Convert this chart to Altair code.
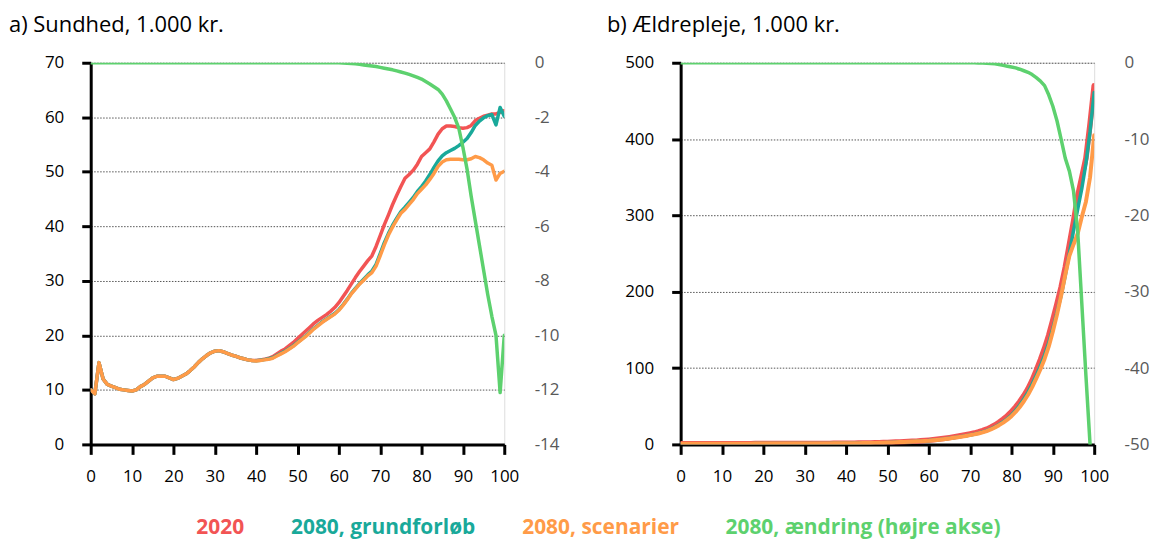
import altair as alt
import pandas as pd

FONT = "Open Sans"

series_names = ["2020", "2080, grundforløb", "2080, scenarier", "2080, ændring (højre akse)"]
series_colors = ["#F25454", "#19A99A", "#FF9B48", "#5DD16E"]

ages = list(range(101))

# a) Sundhed, 1.000 kr.
sund_2020 = [10.0, 9.3, 15.0, 12.0, 11.0, 10.7, 10.4, 10.1, 10.0, 9.9,
             9.8, 10.0, 10.6, 11.0, 11.6, 12.2, 12.5, 12.5, 12.5, 12.2,
             11.9, 12.1, 12.5, 12.9, 13.5, 14.2, 15.0, 15.7, 16.3, 16.8,
             17.1, 17.2, 17.0, 16.7, 16.4, 16.2, 15.9, 15.7, 15.5, 15.4,
             15.4, 15.5, 15.6, 15.8, 16.1, 16.6, 17.1, 17.5, 18.1, 18.7,
             19.4, 20.1, 20.8, 21.5, 22.2, 22.8, 23.3, 23.8, 24.4, 25.1,
             26.0, 27.1, 28.2, 29.4, 30.6, 31.7, 32.7, 33.7, 34.6, 36.3,
             38.3, 40.3, 42.1, 44.0, 45.7, 47.3, 48.8, 49.5, 50.3, 51.4,
             52.8, 53.5, 54.2, 55.5, 56.9, 57.9, 58.4, 58.4, 58.3, 58.1,
             58.0, 58.1, 58.5, 59.4, 59.8, 60.2, 60.4, 60.6, 60.6, 60.9, 61.2]
sund_grund = [10.0, 9.3, 15.0, 12.0, 11.0, 10.7, 10.4, 10.1, 10.0, 9.9,
              9.8, 10.0, 10.6, 11.0, 11.6, 12.2, 12.5, 12.5, 12.5, 12.2,
              11.9, 12.1, 12.5, 12.9, 13.5, 14.2, 15.0, 15.7, 16.3, 16.8,
              17.1, 17.2, 17.0, 16.7, 16.4, 16.2, 15.9, 15.7, 15.5, 15.4,
              15.35, 15.45, 15.55, 15.7, 15.9, 16.3, 16.7, 17.1, 17.6, 18.1,
              18.7, 19.3, 19.9, 20.6, 21.3, 21.9, 22.5, 23.0, 23.5, 24.0,
              24.7, 25.6, 26.6, 27.7, 28.6, 29.5, 30.3, 31.1, 31.8, 33.0,
              35.0, 37.0, 38.7, 40.2, 41.5, 42.7, 43.5, 44.4, 45.3, 46.4,
              47.3, 48.3, 49.5, 50.8, 52.0, 52.9, 53.5, 53.9, 54.3, 54.8,
              55.4, 56.1, 57.2, 58.5, 59.3, 59.9, 60.3, 60.5, 58.6, 61.8, 60.2]
sund_scen = [10.0, 9.3, 15.0, 12.0, 11.0, 10.7, 10.4, 10.1, 10.0, 9.9,
             9.8, 10.0, 10.6, 11.0, 11.6, 12.2, 12.5, 12.5, 12.5, 12.2,
             11.9, 12.1, 12.5, 12.9, 13.5, 14.2, 15.0, 15.7, 16.3, 16.8,
             17.1, 17.2, 17.0, 16.7, 16.4, 16.2, 15.9, 15.7, 15.5, 15.4,
             15.3, 15.4, 15.5, 15.6, 15.8, 16.2, 16.6, 17.0, 17.5, 18.0,
             18.6, 19.2, 19.8, 20.5, 21.2, 21.8, 22.4, 22.9, 23.4, 23.9,
             24.6, 25.5, 26.5, 27.6, 28.5, 29.4, 30.1, 30.9, 31.5, 32.7,
             34.6, 36.6, 38.4, 39.9, 41.2, 42.4, 43.1, 44.0, 44.9, 46.0,
             46.8, 47.6, 48.6, 49.7, 51.0, 51.8, 52.2, 52.3, 52.3, 52.3,
             52.2, 52.2, 52.4, 52.8, 52.6, 52.2, 51.6, 51.2, 48.5, 49.7, 50.1]
sund_aendr = [0.0, 0.0, 0.0, 0.0, 0.0, 0.0, 0.0, 0.0, 0.0, 0.0,
              0.0, 0.0, 0.0, 0.0, 0.0, 0.0, 0.0, 0.0, 0.0, 0.0,
              0.0, 0.0, 0.0, 0.0, 0.0, 0.0, 0.0, 0.0, 0.0, 0.0,
              0.0, 0.0, 0.0, 0.0, 0.0, 0.0, 0.0, 0.0, 0.0, 0.0,
              0.0, 0.0, 0.0, 0.0, 0.0, 0.0, 0.0, 0.0, 0.0, 0.0,
              0.0, 0.0, 0.0, 0.0, 0.0, 0.0, 0.0, 0.0, 0.0, 0.0,
              0.0, -0.01, -0.02, -0.03, -0.04, -0.06, -0.08, -0.10, -0.12, -0.14,
              -0.17, -0.20, -0.23, -0.26, -0.30, -0.34, -0.38, -0.43, -0.48, -0.54,
              -0.60, -0.69, -0.78, -0.88, -0.98, -1.15, -1.40, -1.70, -2.00, -2.40,
              -3.10, -3.90, -4.90, -5.80, -6.70, -7.60, -8.50, -9.30, -10.00, -12.10, -10.00]

# b) Ældrepleje, 1.000 kr.
aeld_2020 = [0.9, 0.8, 0.8, 0.8, 0.8, 0.8, 0.8, 0.9, 0.9, 0.9,
             0.9, 0.9, 0.9, 1.0, 1.0, 1.0, 1.0, 1.0, 1.1, 1.1,
             1.1, 1.1, 1.1, 1.1, 1.1, 1.1, 1.1, 1.2, 1.2, 1.2,
             1.2, 1.2, 1.2, 1.3, 1.3, 1.3, 1.3, 1.4, 1.4, 1.5,
             1.5, 1.6, 1.6, 1.7, 1.8, 1.9, 2.0, 2.1, 2.3, 2.4,
             2.6, 2.8, 3.0, 3.2, 3.4, 3.7, 4.0, 4.3, 4.7, 5.1,
             5.6, 6.1, 6.7, 7.4, 8.1, 8.9, 9.8, 10.7, 11.7, 12.7,
             13.8, 14.9, 16.3, 18.0, 20.0, 22.5, 25.5, 29.0, 33.0, 37.5,
             43.0, 49.0, 56.0, 64.0, 73.0, 84.0, 97.0, 111.0, 126.0, 143.0,
             163.0, 184.0, 206.0, 232.0, 262.0, 292.0, 325.0, 350.0, 375.0, 420.0, 470.0]
aeld_grund = [0.9, 0.8, 0.8, 0.8, 0.8, 0.8, 0.8, 0.9, 0.9, 0.9,
              0.9, 0.9, 0.9, 1.0, 1.0, 1.0, 1.0, 1.0, 1.1, 1.1,
              1.1, 1.1, 1.1, 1.1, 1.1, 1.1, 1.1, 1.2, 1.2, 1.2,
              1.2, 1.2, 1.2, 1.3, 1.3, 1.3, 1.3, 1.4, 1.4, 1.4,
              1.4, 1.5, 1.5, 1.6, 1.7, 1.8, 1.9, 2.0, 2.1, 2.2,
              2.4, 2.6, 2.8, 3.0, 3.2, 3.4, 3.7, 4.0, 4.3, 4.6,
              5.0, 5.5, 6.0, 6.6, 7.3, 8.0, 8.8, 9.6, 10.5, 11.4,
              12.4, 13.4, 14.7, 16.2, 18.0, 20.2, 22.9, 26.0, 29.6, 33.7,
              38.5, 44.5, 51.5, 59.5, 68.5, 79.0, 90.5, 103.0, 117.0, 133.0,
              152.0, 173.0, 195.0, 221.0, 250.0, 280.0, 308.0, 335.0, 368.0, 410.0, 461.0]
aeld_scen = [0.9, 0.8, 0.8, 0.8, 0.8, 0.8, 0.8, 0.9, 0.9, 0.9,
             0.9, 0.9, 0.9, 1.0, 1.0, 1.0, 1.0, 1.0, 1.1, 1.1,
             1.1, 1.1, 1.1, 1.1, 1.1, 1.1, 1.1, 1.2, 1.2, 1.2,
             1.2, 1.2, 1.2, 1.3, 1.3, 1.3, 1.3, 1.4, 1.4, 1.4,
             1.4, 1.5, 1.5, 1.6, 1.7, 1.8, 1.9, 2.0, 2.1, 2.2,
             2.4, 2.6, 2.8, 3.0, 3.2, 3.4, 3.7, 4.0, 4.3, 4.6,
             4.9, 5.4, 5.9, 6.5, 7.1, 7.8, 8.6, 9.4, 10.2, 11.1,
             12.1, 13.1, 14.3, 15.8, 17.5, 19.6, 22.2, 25.2, 28.6, 32.5,
             37.0, 42.5, 49.0, 56.5, 65.0, 75.0, 86.5, 98.5, 112.0, 128.0,
             148.0, 170.0, 195.0, 222.0, 247.0, 262.0, 276.0, 298.0, 318.0, 350.0, 405.0]
aeld_aendr = [0.0, 0.0, 0.0, 0.0, 0.0, 0.0, 0.0, 0.0, 0.0, 0.0,
              0.0, 0.0, 0.0, 0.0, 0.0, 0.0, 0.0, 0.0, 0.0, 0.0,
              0.0, 0.0, 0.0, 0.0, 0.0, 0.0, 0.0, 0.0, 0.0, 0.0,
              0.0, 0.0, 0.0, 0.0, 0.0, 0.0, 0.0, 0.0, 0.0, 0.0,
              0.0, 0.0, 0.0, 0.0, 0.0, 0.0, 0.0, 0.0, 0.0, 0.0,
              0.0, 0.0, 0.0, 0.0, 0.0, 0.0, 0.0, 0.0, 0.0, 0.0,
              0.0, 0.0, 0.0, 0.0, 0.0, 0.0, 0.0, 0.0, 0.0, 0.0,
              0.0, 0.0, -0.02, -0.04, -0.07, -0.10, -0.15, -0.25, -0.35, -0.45,
              -0.55, -0.68, -0.85, -1.05, -1.25, -1.55, -1.95, -2.40, -3.00, -4.20,
              -5.70, -7.60, -10.00, -12.50, -14.20, -16.80, -22.00, -31.50, -41.00, -50.00, None]

left_ticks_a = [0, 10, 20, 30, 40, 50, 60, 70]
right_ticks_a = [-14, -12, -10, -8, -6, -4, -2, 0]
left_ticks_b = [0, 100, 200, 300, 400, 500]
right_ticks_b = [-50, -40, -30, -20, -10, 0]
x_ticks = [0, 10, 20, 30, 40, 50, 60, 70, 80, 90, 100]


def long_df(cols):
    rows = []
    for name, vals in zip(series_names, cols):
        for a, v in zip(ages, vals):
            if v is not None:
                rows.append({"age": a, "series": name, "value": v})
    return pd.DataFrame(rows)


df_a = long_df([sund_2020, sund_grund, sund_scen, sund_aendr])
df_b = long_df([aeld_2020, aeld_grund, aeld_scen, aeld_aendr])

color_scale = alt.Scale(domain=series_names, range=series_colors)
legend = alt.Legend(
    title=None, orient="none", direction="horizontal", legendX=85, legendY=456,
    symbolOpacity=0, symbolSize=0, symbolStrokeWidth=0, labelOffset=0,
    columnPadding=25, labelFont=FONT, labelFontSize=21, labelFontWeight="bold",
    labelColor={"expr": "scale('color', datum.value)"}, labelLimit=400,
)

x_axis = alt.Axis(values=x_ticks, grid=False, domainColor="black", domainWidth=3,
                  tickColor="black", tickWidth=3, tickSize=10, labelPadding=14,
                  labelColor="black", labelFont=FONT, labelFontSize=17, title=None,
                  labelFlush=False)


def left_axis(vals):
    return alt.Axis(values=vals, grid=True, gridDash=[1.5, 1.5], gridColor="#555555",
                    gridWidth=1, domainColor="black", domainWidth=3, tickColor="black",
                    tickWidth=3, tickSize=9, labelPadding=18, labelColor="black",
                    labelFont=FONT, labelFontSize=17, title=None, orient="left")


def right_axis(vals):
    return alt.Axis(values=vals, grid=False, domain=False, ticks=False, labelPadding=30,
                    labelColor="#595959", labelFont=FONT, labelFontSize=17, title=None,
                    orient="right", labelExpr="toString(datum.value)")


def line(df, name, width, ydomain, axis):
    return alt.Chart(df).transform_filter(alt.datum.series == name).mark_line(
        strokeWidth=width, clip=True, strokeJoin="round", strokeCap="round"
    ).encode(
        x=alt.X("age:Q", scale=alt.Scale(domain=[0, 100], nice=False), axis=x_axis),
        y=alt.Y("value:Q", scale=alt.Scale(domain=ydomain, nice=False, zero=False), axis=axis),
        color=alt.Color("series:N", scale=color_scale, legend=legend),
    )


def panel(df, title, dx, ldom, lticks, rdom, rticks, widths):
    la = left_axis(lticks)
    main = alt.layer(
        line(df, series_names[0], widths[0], ldom, la),
        line(df, series_names[1], widths[1], ldom, la),
        line(df, series_names[2], widths[2], ldom, la),
    )
    green = line(df, series_names[3], widths[3], rdom, right_axis(rticks))
    return alt.layer(main, green).resolve_scale(y="independent").properties(
        width=415, height=383,
        title=alt.TitleParams(title, anchor="start", frame="group", dx=dx, offset=17,
                              font=FONT, fontSize=22, fontWeight="normal", color="black"),
    )


pa = panel(df_a, "a) Sundhed, 1.000 kr.", -82, [0, 70], left_ticks_a, [-14, 0], right_ticks_a,
           [3.5, 3.5, 3.5, 3.5])
pb = panel(df_b, "b) Ældrepleje, 1.000 kr.", -74, [0, 500], left_ticks_b, [-50, 0], right_ticks_b,
           [5.5, 3.5, 4, 3.5])

chart = alt.hconcat(pa, pb, spacing=177, bounds="flush").properties(
    padding={"left": 0, "top": 4, "right": 0, "bottom": 0}
).configure_view(stroke=None).configure(background="white")

chart.save("out.html", embed_options={"renderer": "svg", "actions": False})
